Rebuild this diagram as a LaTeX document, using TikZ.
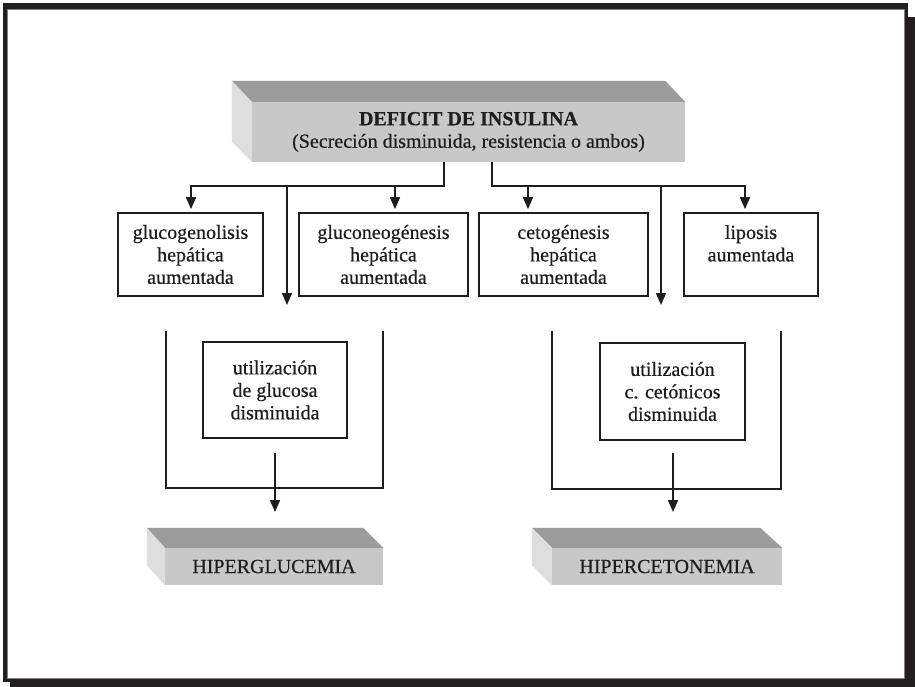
\documentclass[tikz,border=0pt]{standalone}
\usepackage{fontspec}
\setmainfont{Liberation Serif}[FakeBold=0.5]
\usetikzlibrary{arrows.meta,calc}
\definecolor{framec}{HTML}{231F20}
\definecolor{facec}{HTML}{C8C8C8}
\definecolor{topc}{HTML}{9C9C9C}
\definecolor{sidec}{HTML}{DEDEDE}
\definecolor{inkc}{HTML}{1E1E1E}
\begin{document}
\begin{tikzpicture}[x=1pt,y=-1pt,
  conn/.style={line width=1.7pt, draw=inkc},
  arr/.style={conn, -{Triangle[length=12pt,width=10pt]}},
  txt/.style={font=\fontsize{20}{22.5}\selectfont, text=inkc, align=center},
  box/.style={txt, draw=inkc, line width=1.7pt, inner sep=0pt},
  front/.style={txt, fill=facec, inner sep=0pt},
]
\useasboundingbox (0,0) rectangle (915,687);
% frame with shadow
\fill[framec] (10,17) rectangle (915,687);
\fill[framec] (2.5,3) rectangle (908,682);
\fill[white] (7.5,9) rectangle (904,678);
\draw[gray, line width=0.6pt] (7.5,9) rectangle (904,678);

% top 3D box
\node[front, minimum width=433pt, minimum height=60pt] (top) at (468.5,132)
  {\textbf{DEFICIT DE INSULINA}\\(Secreción disminuida, resistencia o ambos)};
\fill[topc] (top.north west) -- (top.north east) -- ++(-20,-21) -- ($(top.north west)+(-20,-21)$) -- cycle;
\fill[sidec] (top.north west) -- ++(-20,-21) -- ($(top.south west)+(-20,-21)$) -- (top.south west) -- cycle;

% second row boxes
\node[box, minimum width=145pt, minimum height=83pt] (b1) at (190.5,254.5) {glucogenolisis\\hepática\\aumentada};
\node[box, minimum width=169pt, minimum height=83pt] (b2) at (383.5,254.5) {gluconeogénesis\\hepática\\aumentada};
\node[box, minimum width=169pt, minimum height=83pt] (b3) at (563.5,254.5) {cetogénesis\\hepática\\aumentada};
\node[box, minimum width=134pt, minimum height=83pt] (b4) at (751,254.5) {liposis\\aumentada\\\mbox{}};

% junctions
\coordinate (jl) at (444,186);
\coordinate (jr) at (492,186);
\coordinate (a1) at (191,186);
\coordinate (a2) at (395,186);
\coordinate (a3) at (528,186);
\coordinate (a4) at (745,186);
\coordinate (la) at (287,305);
\coordinate (ra) at (661,305);

\draw[arr, shorten >=3pt] (jl |- top.south) -- (jl) -- (a1) -- (a1 |- b1.north);
\draw[arr, shorten >=3pt] (a2) -- (a2 |- b2.north);
\draw[arr] (la |- jl) -- (la);
\draw[arr, shorten >=3pt] (jr |- top.south) -- (jr) -- (a4) -- (a4 |- b4.north);
\draw[arr, shorten >=3pt] (a3) -- (a3 |- b3.north);
\draw[arr] (ra |- jr) -- (ra);

% utilization boxes
\node[box, minimum width=144pt, minimum height=96pt] (u1) at (275,390) {utilización\\de glucosa\\disminuida};
\node[box, minimum width=145pt, minimum height=97pt] (u2) at (672.5,391.5) {utilización\\c. cetónicos\\disminuida};

% U brackets
\coordinate (ul1) at (166,331);
\coordinate (ul2) at (383,331);
\coordinate (hb1) at (275,488);
\draw[conn] (ul1) -- (ul1 |- hb1) -- (ul2 |- hb1) -- (ul2);
\coordinate (ur1) at (552,331);
\coordinate (ur2) at (781,331);
\coordinate (hb2) at (673,489);
\draw[conn] (ur1) -- (ur1 |- hb2) -- (ur2 |- hb2) -- (ur2);

\coordinate (s1) at (275,453);
\coordinate (t1) at (275,512);
\coordinate (s2) at (673,453);
\coordinate (t2) at (673,512);
\draw[arr] (s1) -- (t1);
\draw[arr] (s2) -- (t2);

% bottom 3D boxes
\node[front, minimum width=218pt, minimum height=37pt] (hg) at (274,566.5) {HIPERGLUCEMIA};
\fill[topc] (hg.north west) -- (hg.north east) -- ++(-20,-20) -- ($(hg.north west)+(-18,-20)$) -- cycle;
\fill[sidec] (hg.north west) -- ++(-18,-20) -- ($(hg.south west)+(-18,-20)$) -- (hg.south west) -- cycle;

\node[front, minimum width=230pt, minimum height=37pt] (hc) at (667,566.5) {HIPERCETONEMIA};
\fill[topc] (hc.north west) -- (hc.north east) -- ++(-22,-20) -- ($(hc.north west)+(-20,-20)$) -- cycle;
\fill[sidec] (hc.north west) -- ++(-20,-20) -- ($(hc.south west)+(-20,-20)$) -- (hc.south west) -- cycle;
\end{tikzpicture}
\end{document}
